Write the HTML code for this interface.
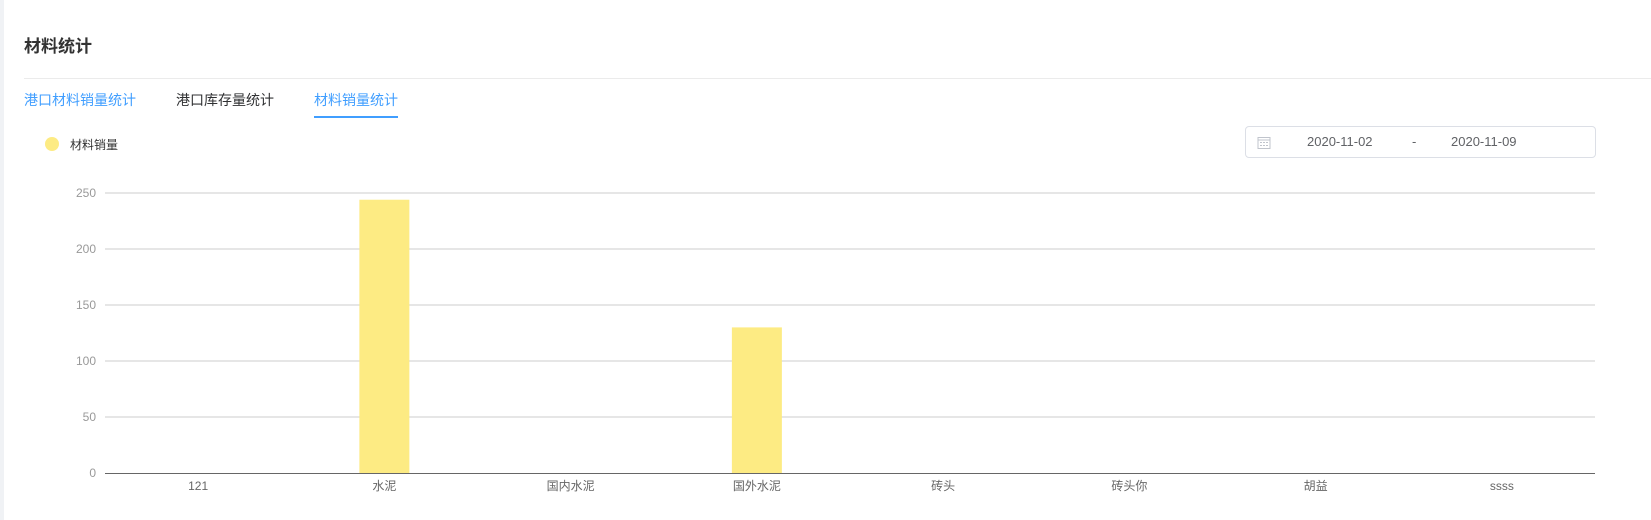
<!DOCTYPE html>
<html><head><meta charset="utf-8"><style>
body{margin:0;width:1651px;height:520px;background:#fff;font-family:"Liberation Sans","Noto Sans CJK SC",sans-serif;position:relative;overflow:hidden}
.abs{position:absolute}
</style></head><body>
<div class="abs" style="left:0;top:0;width:4px;height:520px;background:#f0f2f5"></div>
<div class="abs" style="left:24px;top:32px;font-size:17px;font-weight:bold;color:#333">材料统计</div>
<div class="abs" style="left:24px;top:78px;width:1627px;height:1px;background:#ebebeb"></div>
<div class="abs" style="left:24px;top:90px;font-size:14px;color:#409eff">港口材料销量统计</div>
<div class="abs" style="left:176px;top:90px;font-size:14px;color:#303133">港口库存量统计</div>
<div class="abs" style="left:314px;top:90px;font-size:14px;color:#409eff">材料销量统计</div>
<div class="abs" style="left:314px;top:116px;width:84px;height:2px;background:#409eff"></div>
<div class="abs" style="left:45px;top:137px;width:14px;height:14px;border-radius:50%;background:#fdeb83"></div>
<div class="abs" style="left:70px;top:136px;font-size:12px;color:#333">材料销量</div>
<div class="abs" style="left:1245px;top:126px;width:349px;height:30px;border:1px solid #dcdfe6;border-radius:4px;font-size:13px;color:#606266">
 <svg class="abs" style="left:11px;top:9px" width="14" height="13" viewBox="0 0 14 13"><rect x="1" y="1.5" width="12" height="11" fill="none" stroke="#c0c4cc"/><line x1="1" y1="4" x2="13" y2="4" stroke="#c0c4cc"/><g fill="#c0c4cc"><rect x="3" y="6" width="2" height="1"/><rect x="6" y="6" width="2" height="1"/><rect x="9" y="6" width="2" height="1"/><rect x="3" y="9" width="2" height="1"/><rect x="6" y="9" width="2" height="1"/><rect x="9" y="9" width="2" height="1"/></g></svg>
 <span class="abs" style="left:61px;top:7px">2020-11-02</span>
 <span class="abs" style="left:166px;top:7px">-</span>
 <span class="abs" style="left:205px;top:7px">2020-11-09</span>
</div>
<svg class="abs" id="chart" style="left:0;top:0" width="1651" height="520"></svg>
<script>
const categories=["121","水泥","国内水泥","国外水泥","砖头","砖头你","胡益","ssss"];
const values=[0,244,0,130,0,0,0,0];
const ticks=[0,50,100,150,200,250];
const NS="http://www.w3.org/2000/svg";
const svg=document.getElementById('chart');
const x0=105,x1=1595,y0=473,yTop=193,maxV=250;
const band=(x1-x0)/categories.length;
const y=v=>y0-(v/maxV)*(y0-yTop);
function mk(t,a){const e=document.createElementNS(NS,t);for(const k in a)e.setAttribute(k,a[k]);svg.appendChild(e);return e;}
ticks.forEach(t=>{
 if(t>0){const l=mk('line',{x1:x0,x2:x1,y1:y(t),y2:y(t),stroke:'#cccccc','stroke-width':1});
 
 }
 const tx=mk('text',{x:x0-9,y:y(t)+4,'text-anchor':'end','font-size':12,fill:'#999','font-family':'Liberation Sans, sans-serif'});
 tx.textContent=t;
 
 
});
categories.forEach((c,i)=>{
 const cx=x0+band*(i+0.5);
 if(values[i]>0){const r=mk('rect',{x:cx-25,y:y(values[i]),width:50,height:y0-y(values[i]),fill:'#fdeb83'});
 
 }
 const tx=mk('text',{x:cx,y:490,'text-anchor':'middle','font-size':12,fill:'#666','font-family':'Liberation Sans, Noto Sans CJK SC, sans-serif'});
 tx.textContent=c;
 
 
});
const ax=mk('line',{x1:x0,x2:x1,y1:y0+0.5,y2:y0+0.5,stroke:'#666','stroke-width':1});


</script>
</body></html>
